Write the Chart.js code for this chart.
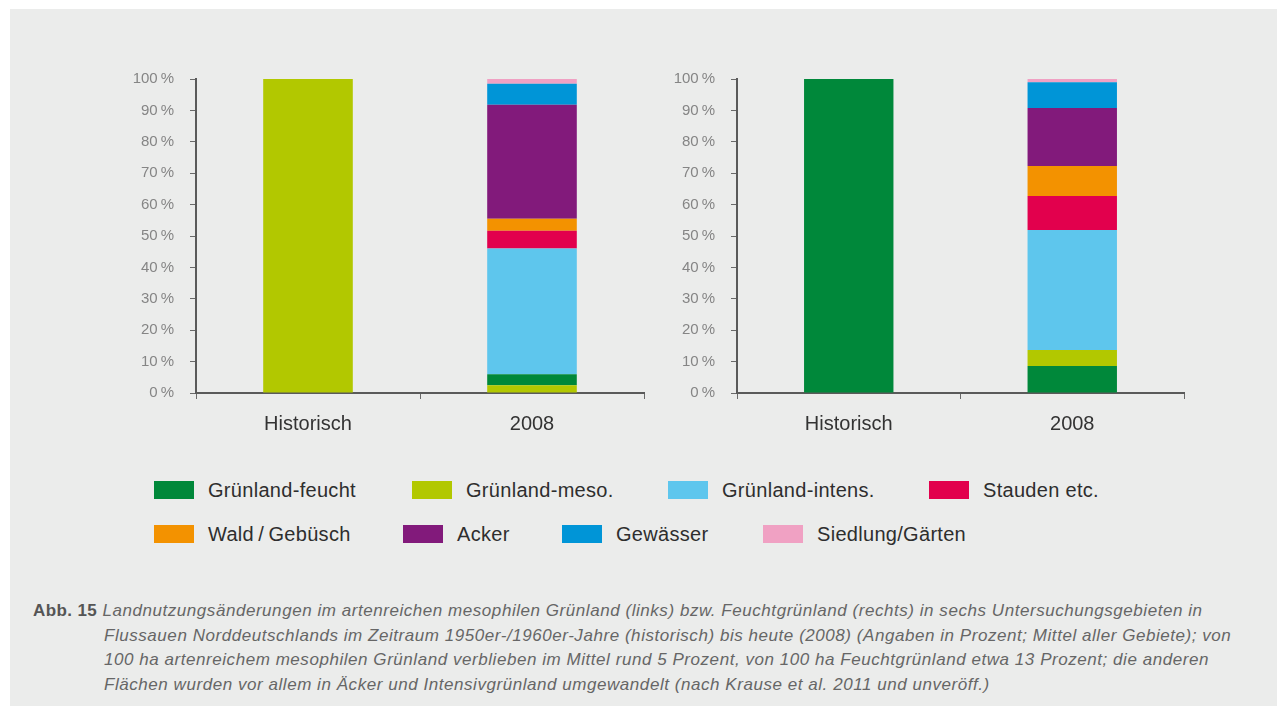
<!DOCTYPE html>
<html lang="de">
<head>
<meta charset="utf-8">
<title>Abb. 15 Landnutzungsänderungen</title>
<script src="https://cdn.jsdelivr.net/npm/chart.js@4/dist/chart.umd.min.js"></script>
<style>
    html, body { margin: 0; padding: 0; background: #fff; }
    body { width: 1277px; height: 706px; position: relative; overflow: hidden;
           font-family: "Liberation Sans", Arial, sans-serif; }
    .panel { position: absolute; left: 10px; top: 9px; width: 1267px; height: 697px; background: #ebeceb; }
    .chart-box { position: absolute; }
    #leftBox { left: 100px; top: 54px; width: 560px; height: 400px; }
    #rightBox { left: 660px; top: 54px; width: 540px; height: 400px; }
    .legend-item { position: absolute; height: 24px; display: flex; align-items: center;
                   font-size: 20px; letter-spacing: 0.3px; color: #2e2e2e; white-space: nowrap; }
    .legend-item span.sw { display: inline-block; width: 40px; height: 18px; margin-right: 14px; }
    .caption { position: absolute; left: 33px; top: 599px; font-size: 17px; letter-spacing: 0.55px; color: #666;
               line-height: 24.5px; white-space: nowrap; }
    .caption b { color: #555; font-style: normal; letter-spacing: 0.4px; }
    .caption .line { font-style: italic; }
    .caption .indent { padding-left: 71px; }
</style>
</head>
<body>
<div class="panel"></div>
<div class="chart-box" id="leftBox"><canvas id="leftChart"></canvas></div>
<div class="chart-box" id="rightBox"><canvas id="rightChart"></canvas></div>
<div id="legend"></div>
<div class="caption">
    <div class="line"><b>Abb. 15</b> Landnutzungsänderungen im artenreichen mesophilen Grünland (links) bzw. Feuchtgrünland (rechts) in sechs Untersuchungsgebieten in</div>
    <div class="line indent">Flussauen Norddeutschlands im Zeitraum 1950er-/1960er-Jahre (historisch) bis heute (2008) (Angaben in Prozent; Mittel aller Gebiete); von</div>
    <div class="line indent">100 ha artenreichem mesophilen Grünland verblieben im Mittel rund 5 Prozent, von 100 ha Feuchtgrünland etwa 13 Prozent; die anderen</div>
    <div class="line indent">Flächen wurden vor allem in Äcker und Intensivgrünland umgewandelt (nach Krause et al. 2011 und unveröff.)</div>
</div>

<script>
// ---- data ----
const categories = ['Historisch', '2008'];
const landUse = ['Grünland-feucht', 'Grünland-meso.', 'Grünland-intens.', 'Stauden etc.',
                 'Wald/Gebüsch', 'Acker', 'Gewässer', 'Siedlung/Gärten'];
const legendLabels = ['Grünland-feucht', 'Grünland-meso.', 'Grünland-intens.', 'Stauden etc.',
                      'Wald\u2009/\u2009Gebüsch', 'Acker', 'Gewässer', 'Siedlung/Gärten'];
const colors = ['#00883a', '#b2c800', '#5ec6ed', '#e2004d', '#f39200', '#821a7b', '#0095d7', '#f0a1c3'];

// mesophiles Grünland (links), [Historisch, 2008]
const mesoFeucht   = [0, 3.5];
const mesoMeso     = [100, 2.5];
const mesoIntens   = [0, 40.0];
const mesoStauden  = [0, 5.7];
const mesoWald     = [0, 3.8];
const mesoAcker    = [0, 36.3];
const mesoGewaesser = [0, 6.7];
const mesoSiedlung = [0, 1.5];

// Feuchtgrünland (rechts), [Historisch, 2008]
const feuchtFeucht   = [100, 8.6];
const feuchtMeso     = [0, 5.1];
const feuchtIntens   = [0, 38.2];
const feuchtStauden  = [0, 10.8];
const feuchtWald     = [0, 9.6];
const feuchtAcker    = [0, 18.5];
const feuchtGewaesser = [0, 8.2];
const feuchtSiedlung = [0, 1.0];

const yTicks = [0, 10, 20, 30, 40, 50, 60, 70, 80, 90, 100];

const leftSeries = [mesoFeucht, mesoMeso, mesoIntens, mesoStauden, mesoWald, mesoAcker, mesoGewaesser, mesoSiedlung];
const rightSeries = [feuchtFeucht, feuchtMeso, feuchtIntens, feuchtStauden, feuchtWald, feuchtAcker, feuchtGewaesser, feuchtSiedlung];
// stacking order from the bottom (left chart has meso below feucht)
const leftOrder = [1, 0, 2, 3, 4, 5, 6, 7];
const rightOrder = [0, 1, 2, 3, 4, 5, 6, 7];

function buildDatasets(series, order) {
    return order.map(i => ({
        label: landUse[i],
        data: series[i],
        backgroundColor: colors[i],
        borderWidth: 0,
        categoryPercentage: 0.4,
        barPercentage: 1.0
    }));
}

function makeChart(id, series, order, yWidth) {
    const ctx = document.getElementById(id);
    return new Chart(ctx.getContext('2d'), {
        type: 'bar',
        data: { labels: categories, datasets: buildDatasets(series, order) },
        options: {
            responsive: true,
            maintainAspectRatio: false,
            animation: false,
            layout: { padding: { top: 0, right: 16, left: 0, bottom: 0 } },
            plugins: { legend: { display: false }, tooltip: { enabled: false } },
            scales: {
                x: {
                    stacked: true,
                    grid: { display: true, drawOnChartArea: false, drawTicks: true, tickLength: 6,
                            color: '#6a6a6a', lineWidth: 1, offset: true },
                    border: { display: true, color: '#5a5a5a', width: 2 },
                    ticks: { color: '#333', font: { size: 20, family: '"Liberation Sans", Arial, sans-serif' },
                             padding: 13 },
                    afterFit: (axis) => { axis.height = 61; }
                },
                y: {
                    stacked: true,
                    min: 0,
                    max: 100,
                    afterBuildTicks: (axis) => { axis.ticks = yTicks.map(v => ({ value: v })); },
                    grid: { display: true, drawOnChartArea: false, drawTicks: true, tickLength: 6,
                            color: '#6a6a6a', lineWidth: 1 },
                    border: { display: true, color: '#5a5a5a', width: 2 },
                    ticks: { color: '#858585', font: { size: 15, family: '"Liberation Sans", Arial, sans-serif' },
                             padding: 16, callback: (v) => v + '\u2009%' },
                    afterFit: (axis) => { axis.width = yWidth; }
                }
            }
        }
    });
}

document.addEventListener('DOMContentLoaded', function() {
    makeChart('leftChart', leftSeries, leftOrder, 96);
    makeChart('rightChart', rightSeries, rightOrder, 77);

    // ---- legend (html) ----
    const legendPos = [
        [154, 478], [412, 478], [668, 478], [929, 478],
        [154, 522], [403, 522], [562, 522], [763, 522]
    ];
    const legend = document.getElementById('legend');
    legendLabels.forEach((name, i) => {
        const item = document.createElement('div');
        item.className = 'legend-item';
        item.style.left = legendPos[i][0] + 'px';
        item.style.top = legendPos[i][1] + 'px';
        item.innerHTML = '<span class="sw" style="background:' + colors[i] + '"></span>' + name;
        legend.appendChild(item);
    });
});
</script>
</body>
</html>
